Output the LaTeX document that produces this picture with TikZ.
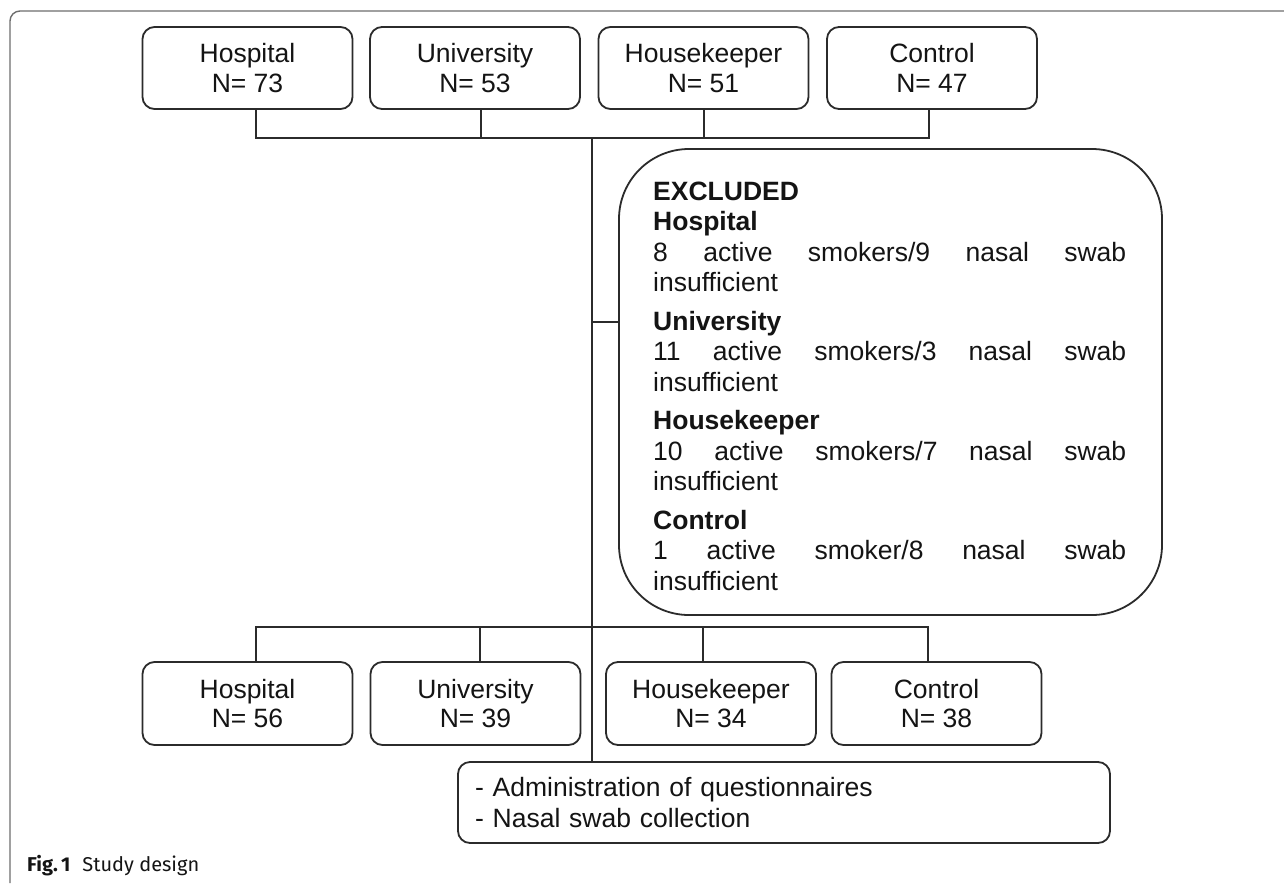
\documentclass[tikz,border=0pt]{standalone}
\usepackage{fontspec}
\setmainfont{Liberation Sans}
\newfontfamily\capfont{Fira Sans}
\definecolor{linec}{HTML}{2B2B2B}
\definecolor{framec}{HTML}{6E6E6E}
\definecolor{txtc}{HTML}{141414}
\newcommand{\jline}[1]{\leavevmode\hbox to 473pt{#1}}
\begin{document}
\begin{tikzpicture}[x=1pt,y=-1pt,
  box/.style={draw=linec, line width=1.8pt, rounded corners=12pt, minimum width=210pt,
    minimum height=82pt, align=center, inner sep=0pt, text=txtc,
    font=\fontsize{26.5}{29.5}\selectfont},
  conn/.style={draw=linec, line width=1.8pt},
  exbox/.style={draw=linec, line width=1.8pt, rounded corners=70pt, minimum width=543pt,
    minimum height=466pt, inner sep=0pt},
  extxt/.style={anchor=base west, inner sep=0pt, text width=473pt, text=txtc,
    font=\fontsize{26.5}{30.5}\selectfont},
  adbox/.style={draw=linec, line width=1.8pt, rounded corners=12pt, minimum width=652pt,
    minimum height=81pt, text width=618pt, inner xsep=17pt, inner ysep=0pt, align=left,
    text=txtc, font=\fontsize{26.5}{31}\selectfont},
]
\useasboundingbox (0,0) rectangle (1284,883);
\fill[white] (0,0) rectangle (1284,883);
% outer frame
\draw[framec, line width=1.4pt, rounded corners=10pt] (10,883) -- (10,11) -- (1284,11);

% top boxes
\node[box] (t1) at (247.5,68) {Hospital\\N= 73};
\node[box] (t2) at (475,68) {University\\N= 53};
\node[box] (t3) at (703.5,68) {Housekeeper\\N= 51};
\node[box] (t4) at (932,68) {Control\\N= 47};

% excluded box
\node[exbox] (ex) at (890.5,382) {};
\node[extxt] (ext) at (653,200) {%
\textbf{EXCLUDED}\\
\textbf{Hospital}\\
\jline{8\hfill active\hfill smokers/9\hfill nasal\hfill swab}\\
insufficient\\[8pt]
\textbf{University}\\
\jline{11\hfill active\hfill smokers/3\hfill nasal\hfill swab}\\
insufficient\\[8pt]
\textbf{Housekeeper}\\
\jline{10\hfill active\hfill smokers/7\hfill nasal\hfill swab}\\
insufficient\\[8pt]
\textbf{Control}\\
\jline{1\hfill active\hfill smoker/8\hfill nasal\hfill swab}\\
insufficient};

% bottom boxes
\node[box, minimum height=83pt] (b1) at (247.5,703.5) {Hospital\\N= 56};
\node[box, minimum height=83pt] (b2) at (475.5,703.5) {University\\N= 39};
\node[box, minimum height=83pt] (b3) at (711,703.5) {Housekeeper\\N= 34};
\node[box, minimum height=83pt] (b4) at (936.5,703.5) {Control\\N= 38};

% admin box
\node[adbox] (ad) at (784,802.5) {- Administration of questionnaires\\- Nasal swab collection};

% connector coordinates
\coordinate (ta) at (256,138);
\coordinate (tb) at (481,138);
\coordinate (tc) at (704,138);
\coordinate (td) at (929,138);
\coordinate (m1) at (592,138);
\coordinate (br) at (592,322);
\coordinate (ba) at (256,627);
\coordinate (bb) at (480,627);
\coordinate (bc) at (703,627);
\coordinate (bd) at (928,627);

\draw[conn] (ta |- t1.south) -- (ta) -- (td) -- (td |- t4.south);
\draw[conn] (tb |- t2.south) -- (tb);
\draw[conn] (tc |- t3.south) -- (tc);
\draw[conn] (m1) -- (m1 |- ad.north);
\draw[conn] (br) -- (br -| ex.west);
\draw[conn] (ba |- b1.north) -- (ba) -- (bd) -- (bd |- b4.north);
\draw[conn] (bb |- b2.north) -- (bb);
\draw[conn] (bc |- b3.north) -- (bc);

% caption
\node[anchor=base west, inner sep=0pt, text=txtc, font=\capfont\fontsize{20}{22}\selectfont] (cap)
  at (27,871) {\textbf{Fig.\,1}\hspace{12pt}Study design};
\end{tikzpicture}
\end{document}
